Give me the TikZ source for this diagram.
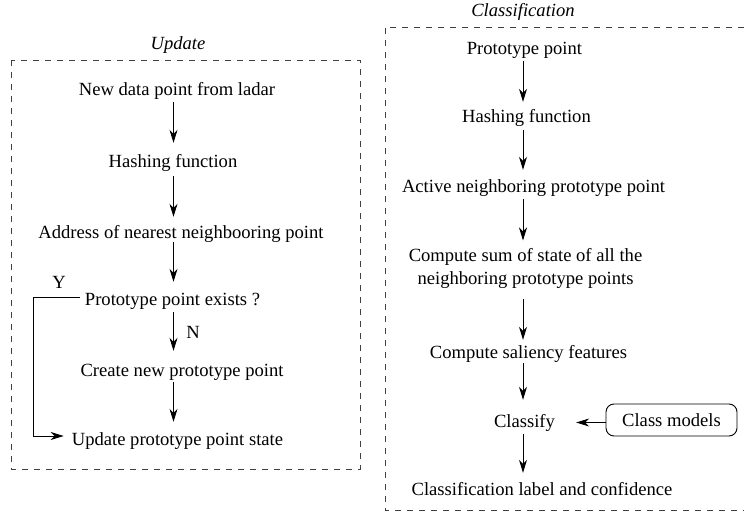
\documentclass[tikz,border=0pt]{standalone}
\usepackage{fontspec}
\setmainfont{Liberation Serif}
\usetikzlibrary{arrows.meta}
\begin{document}
\begin{tikzpicture}[x=1pt,y=-1pt,
  txt/.style={inner sep=0pt, text height=13pt, text depth=4pt, anchor=base,
              font=\fontsize{18.6}{23}\selectfont},
  ttl/.style={txt, font=\fontsize{18.6}{23}\selectfont\itshape},
  multi/.style={inner sep=0pt, align=center, anchor=north,
              font=\fontsize{18.6}{23}\selectfont},
  arr/.style={-{Stealth[length=13pt,width=8pt,inset=4pt]}, line width=0.9pt},
  frame/.style={dash pattern=on 6pt off 6pt, line width=0.9pt, draw=black!75},
  model/.style={draw, rounded corners=8pt, line width=0.9pt, minimum width=131pt,
              minimum height=32pt, inner sep=0pt, font=\fontsize{18.6}{23}\selectfont}]
\useasboundingbox (0,0) rectangle (744,516);

% frames
\draw[frame] (11,60) rectangle (360,469);
\draw[frame] (744,27) -- (385,27) -- (385,510) -- (744,510);

% titles
\node[ttl] (tu) at (178,50) {Update};
\node[ttl] (tc) at (523,17) {Classification};

% left column
\coordinate (cl) at (173.5,0);
\node[txt] (n1) at (177,96) {New data point from ladar};
\node[txt] (n2) at (173,167) {Hashing function};
\node[txt] (n3) at (181,238) {Address of nearest neighbooring point};
\node[txt] (n4) at (172.5,305) {Prototype point exists ?};
\node[txt] (n5) at (182,376) {Create new prototype point};
\node[txt] (n6) at (177.5,445) {Update prototype point state};
\node[txt] (ly) at (59,288) {Y};
\node[txt] (ln) at (193,338) {N};

\draw[arr, shorten <=2pt, shorten >=11pt] (n1.south -| cl) -- (n2.north -| cl);
\draw[arr, shorten <=5pt, shorten >=8pt] (n2.south -| cl) -- (n3.north -| cl);
\draw[arr, shorten <=0pt, shorten >=10pt] (n3.south -| cl) -- (n4.north -| cl);
\draw[arr, shorten <=3pt, shorten >=12pt] (n4.south -| cl) -- (n5.north -| cl);
\draw[arr, shorten <=2pt, shorten >=10pt] (n5.south -| cl) -- (n6.north -| cl);
\draw[arr] ([shift={(-5pt,3.5pt)}]n4.west) -- ++(-46,0) |- ([shift={(-8pt,4.5pt)}]n6.west);

% right column
\coordinate (cr) at (523,0);
\node[txt] (r1) at (524.5,55) {Prototype point};
\node[txt] (r2) at (526.5,123) {Hashing function};
\node[txt] (r3) at (533.5,192) {Active neighboring prototype point};
\node[multi] (r4) at (525.5,248.5) {Compute sum of state of all the\\ neighboring prototype points};
\node[txt] (r5) at (528.5,358) {Compute saliency features};
\node[txt] (r6) at (524.5,427) {Classify};
\node[txt] (r7) at (542,495) {Classification label and confidence};
\node[model] (cm) at (671.5,420) {Class models};

\draw[arr, shorten <=2pt, shorten >=8pt] (r1.south -| cr) -- (r2.north -| cr);
\draw[arr, shorten <=3pt, shorten >=9pt] (r2.south -| cr) -- (r3.north -| cr);
\draw[arr, shorten <=3pt, shorten >=8pt] (r3.south -| cr) -- (r4.north -| cr);
\draw[arr, shorten <=10pt, shorten >=5pt] (r4.south -| cr) -- (r5.north -| cr);
\draw[arr, shorten <=1pt, shorten >=14pt] (r5.south -| cr) -- (r6.north -| cr);
\draw[arr, shorten <=3pt, shorten >=9pt] (r6.south -| cr) -- (r7.north -| cr);
\draw[arr, shorten >=21pt] (cm.west |- r6.east) -- (r6.east);
\end{tikzpicture}
\end{document}
